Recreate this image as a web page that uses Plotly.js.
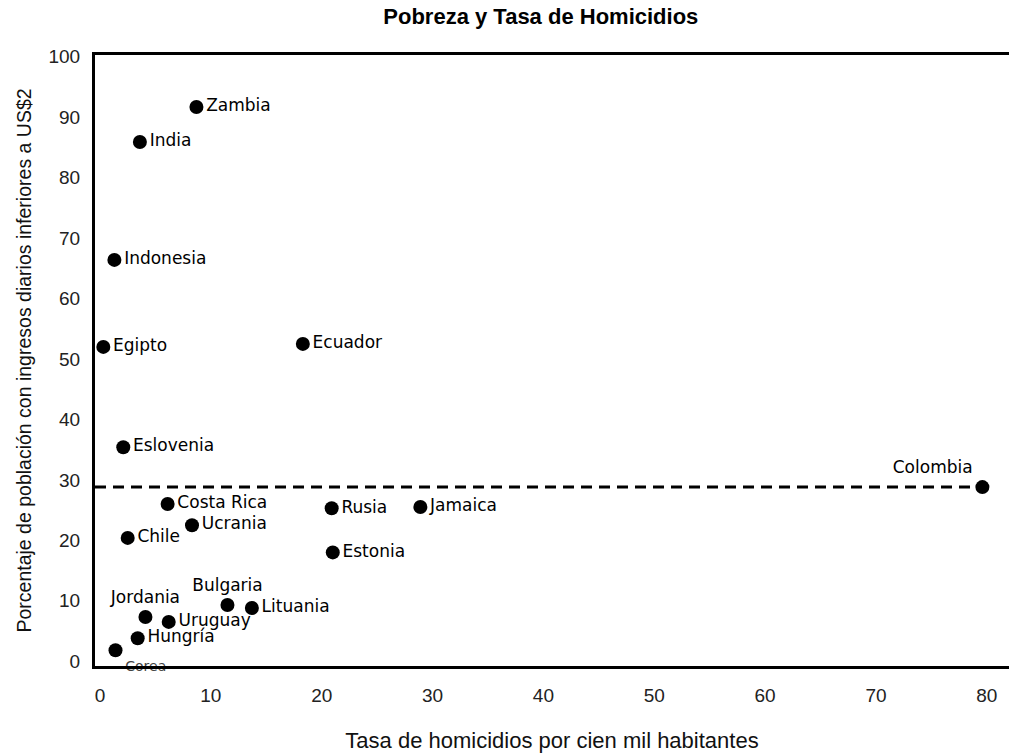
<!DOCTYPE html>
<html>
<head>
<meta charset="utf-8">
<script src="https://cdn.plot.ly/plotly-3.0.1.min.js"></script>
<style>
  html, body { margin: 0; padding: 0; background: #fff; }
  #chart { width: 1009px; height: 753px; }
</style>
</head>
<body>
<div id="chart"></div>
<script>
// ---- Data ----
const countries = ["Zambia", "India", "Indonesia", "Egipto", "Ecuador", "Eslovenia",
  "Costa Rica", "Ucrania", "Chile", "Rusia", "Jamaica", "Estonia", "Colombia",
  "Jordania", "Uruguay", "Bulgaria", "Lituania", "Hungría", "Corea"];
const homicideRate = [8.7, 3.6, 1.3, 0.3, 18.3, 2.1, 6.1, 8.3, 2.5, 20.9, 28.9, 21.0, 79.6,
  4.1, 6.2, 11.5, 13.7, 3.4, 1.4];
const povertyPct = [91.7, 85.9, 66.4, 52.0, 52.5, 35.4, 26.0, 22.5, 20.4, 25.3, 25.5, 18.0, 28.8,
  7.3, 6.5, 9.3, 8.8, 3.8, 1.8];
const referenceCountry = "Colombia";
const xTicks = [0, 10, 20, 30, 40, 50, 60, 70, 80];
const yTicks = [0, 10, 20, 30, 40, 50, 60, 70, 80, 90, 100];

// ---- Styling ----
const labelPosition = {
  "Colombia": "top left",
  "Jordania": "top center",
  "Bulgaria": "top center",
  "Corea": "bottom right"
};
const positions = countries.map(c => labelPosition[c] || "middle right");
const labelSizes = countries.map(c => c === "Corea" ? 14 : 17);
const labelColors = countries.map(c => c === "Corea" ? "#444" : "#000");

const xRange = [-0.45, 82.0];
const yRange = [-0.8, 100.3];

const refIdx = countries.indexOf(referenceCountry);

const traces = [
  {
    type: "scatter",
    mode: "lines",
    x: [xRange[0], homicideRate[refIdx]],
    y: [povertyPct[refIdx], povertyPct[refIdx]],
    line: { color: "#000", width: 3, dash: "11px,7px" },
    hoverinfo: "skip",
    showlegend: false
  },
  {
    type: "scatter",
    mode: "markers+text",
    x: homicideRate,
    y: povertyPct,
    text: countries,
    textposition: positions,
    cliponaxis: false,
    textfont: { family: "DejaVu Sans, Verdana, sans-serif", size: labelSizes, color: labelColors },
    marker: { color: "#000", size: 14 },
    showlegend: false
  }
];

const layout = {
  width: 1009,
  height: 753,
  margin: { l: 95, r: 0, t: 55, b: 87 },
  paper_bgcolor: "#fff",
  plot_bgcolor: "#fff",
  title: {
    text: "<b>Pobreza y Tasa de Homicidios</b>",
    font: { family: "Liberation Sans, Arial, sans-serif", size: 22, color: "#000" },
    x: 0.536, xref: "container", xanchor: "center",
    y: 0.988, yref: "container", yanchor: "top"
  },
  xaxis: {
    range: xRange,
    tickvals: xTicks,
    showgrid: false,
    zeroline: false,
    showline: true,
    mirror: true,
    linecolor: "#000",
    linewidth: 3,
    ticks: "",
    ticklabelstandoff: 10,
    tickfont: { family: "Liberation Sans, Arial, sans-serif", size: 19, color: "#222" },
    title: {
      text: "Tasa de homicidios por cien mil habitantes",
      font: { family: "Liberation Sans, Arial, sans-serif", size: 22, color: "#111" },
      standoff: 28
    }
  },
  yaxis: {
    range: yRange,
    tickvals: yTicks,
    showgrid: false,
    zeroline: false,
    showline: true,
    mirror: false,
    linecolor: "#000",
    linewidth: 3,
    ticks: "",
    ticklabelstandoff: 8,
    tickfont: { family: "Liberation Sans, Arial, sans-serif", size: 19, color: "#222" },
    title: {
      text: "Porcentaje de población con ingresos diarios inferiores a US$2",
      font: { family: "Liberation Sans, Arial, sans-serif", size: 19.5, color: "#111" },
      standoff: 12
    }
  }
};

Plotly.newPlot("chart", traces, layout, { displayModeBar: false, staticPlot: true });
</script>
</body>
</html>
